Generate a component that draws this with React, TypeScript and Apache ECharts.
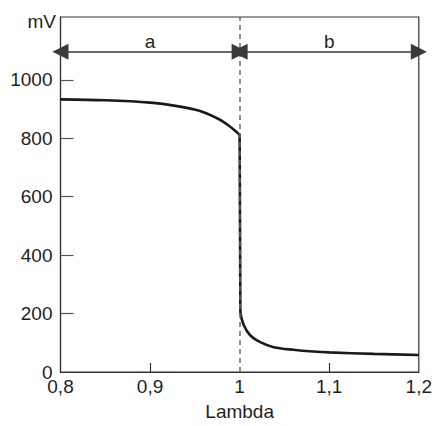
import React, { useEffect, useRef } from "react";
import * as echarts from "echarts";

const lambdaValues = [0.8, 0.85, 0.9, 0.93, 0.955, 0.977, 0.988, 0.9956, 1.0, 1.0008, 1.0047, 1.012, 1.023, 1.038, 1.06, 1.082, 1.1, 1.15, 1.2];
const mvValues = [933, 930, 922, 910, 894, 865, 843, 824, 809, 210, 160, 125, 102, 85, 76, 70, 67, 62, 58];
const yTickValues = [0, 200, 400, 600, 800, 1000];
const xTickLabels = [0.8, 0.9, 1.0, 1.1, 1.2];
const xInnerTicks = [0.9, 1.1];
const rangeLabels = ["a", "b"];
const rangeBounds = [[0.8, 1.0], [1.0, 1.2]];
const arrowLevel = 1096;
const boundaryLambda = 1.0;

export default function App() {
  const ref = useRef<HTMLDivElement>(null);
  useEffect(() => {
    if (!ref.current) return;
    const chart = echarts.init(ref.current, null, { renderer: "svg" });
    const font = "'Liberation Sans', Arial, Helvetica, sans-serif";
    const fs = 19;
    const arrowLines = rangeBounds.map((b, i) => [
      {
        coord: [b[0], arrowLevel],
        label: { show: true, formatter: rangeLabels[i], position: "middle", fontSize: fs, fontFamily: font, color: "#1f1f1f", distance: 1 },
        lineStyle: { color: "#3a3a3a", width: 1.5, type: "solid" },
      },
      { coord: [b[1], arrowLevel] },
    ]);
    chart.setOption({
      animation: false,
      grid: { left: 60.5, right: 14, top: 17, bottom: 51, show: true, borderColor: "#333", borderWidth: 1.2, backgroundColor: "transparent" },
      xAxis: {
        type: "value",
        min: 0.8,
        max: 1.2,
        name: "Lambda",
        nameLocation: "middle",
        nameGap: 30,
        nameTextStyle: { fontSize: fs, fontFamily: font, color: "#1f1f1f" },
        axisLine: { show: true, onZero: false, lineStyle: { color: "#333", width: 1.2 } },
        axisTick: { show: true, inside: true, length: 9, customValues: xInnerTicks, lineStyle: { color: "#333", width: 1.2 } },
        axisLabel: {
          show: true,
          customValues: xTickLabels,
          margin: 6,
          fontSize: fs,
          lineHeight: 16,
          fontFamily: font,
          color: "#1f1f1f",
          formatter: (v: number) => (Math.abs(v - 1) < 1e-9 ? "1" : String(Math.round(v * 10) / 10).replace(".", ",")),
        },
        splitLine: { show: false },
      },
      yAxis: {
        type: "value",
        min: 0,
        max: 1215,
        axisLine: { show: true, onZero: false, lineStyle: { color: "#333", width: 1.2 } },
        axisTick: { show: true, inside: true, length: 13, customValues: yTickValues.filter((v) => v > 0), lineStyle: { color: "#555", width: 1.2 } },
        axisLabel: {
          show: true,
          customValues: yTickValues,
          margin: 8,
          fontSize: fs,
          lineHeight: 14,
          fontFamily: font,
          color: "#1f1f1f",
          formatter: (v: number) => String(v),
        },
        splitLine: { show: false },
      },
      graphic: [
        {
          type: "text",
          right: 435 - 56,
          top: 12,
          style: { text: "mV", fontSize: fs, fontFamily: font, fill: "#1f1f1f" },
        },
      ],
      series: [
        {
          type: "line",
          data: lambdaValues.map((x, i) => [x, mvValues[i]]),
          smooth: 0.3,
          showSymbol: false,
          symbol: "none",
          lineStyle: { color: "#1a1a1a", width: 2.6 },
          z: 3,
        },
        {
          type: "line",
          data: [],
          markLine: {
            silent: true,
            animation: false,
            symbol: ["none", "none"],
            label: { show: false },
            lineStyle: { color: "#6a6a6a", width: 1.5, type: [5, 4] },
            data: [{ xAxis: boundaryLambda }],
          },
          z: 2,
        },
        {
          type: "line",
          data: [],
          markLine: {
            silent: true,
            animation: false,
            symbol: ["triangle", "triangle"],
            symbolSize: [16, 16],
            data: arrowLines,
          },
          z: 4,
        },
      ],
    });
    return () => chart.dispose();
  }, []);
  return <div ref={ref} style={{ width: 435, height: 426, position: "absolute", left: 0, top: 0 }} />;
}
